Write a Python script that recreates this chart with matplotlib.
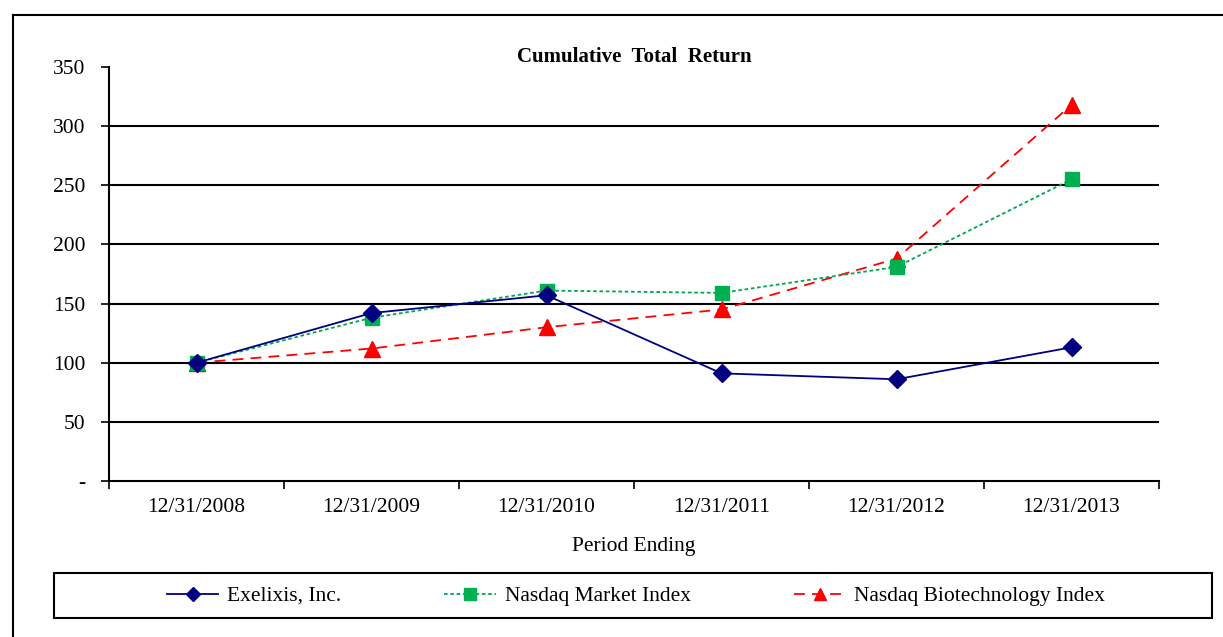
import matplotlib
matplotlib.use("Agg")
import matplotlib.pyplot as plt
from matplotlib.lines import Line2D
from matplotlib.patches import Rectangle
import numpy as np

periods = ["12/31/2008", "12/31/2009", "12/31/2010", "12/31/2011", "12/31/2012", "12/31/2013"]
exelixis = [100, 142, 157, 91, 86, 113]
nasdaq_market = [100, 138, 161, 159, 181, 255]
nasdaq_biotech = [100, 112, 130, 145, 188, 318]
y_ticks = [0, 50, 100, 150, 200, 250, 300, 350]
y_labels = ["-", "50", "100", "150", "200", "250", "300", "350"]

plt.rcParams['font.family'] = ['Liberation Serif', 'DejaVu Serif']

W, H = 1223, 637
fig = plt.figure(figsize=(W / 100, H / 100), dpi=100)
fig.patch.set_facecolor("white")

ax = fig.add_axes([109 / W, 1 - 481 / H, (1159 - 109) / W, (481 - 67) / H])

x = np.arange(len(periods)) + 0.5
ax.plot(x, exelixis, color="#000080", lw=1.3, marker="D", ms=9, mfc="#000080", mec="#000080",
        label="Exelixis, Inc.", zorder=5)
ax.plot(x, nasdaq_market, color="#00A550", lw=1.3, ls=(0, (2, 1.5)), marker="s", ms=10,
        mfc="#00B050", mec="#00B050", label="Nasdaq Market Index", zorder=4)
ax.plot(x, nasdaq_biotech, color="#FF0000", lw=1.3, ls=(0, (6, 4)), marker="^", ms=11,
        mfc="#FF0000", mec="#FF0000", label="Nasdaq Biotechnology Index", zorder=3)

ax.set_xlim(0, len(periods))
ax.set_ylim(0, 350)
ax.set_yticks(y_ticks)
ax.set_yticklabels(y_labels)
for yv in y_ticks[1:-1]:
    ax.axhline(yv, color="black", lw=1.5, zorder=1)

ax.set_xticks(np.arange(len(periods) + 1))
ax.set_xticklabels([])
ax.set_xticks(x, minor=True)
ax.set_xticklabels(periods, minor=True)
ax.tick_params(axis="x", which="major", direction="out", length=6, width=1.2, color="black")
ax.tick_params(axis="x", which="minor", length=0, pad=12, labelsize=15.5)
ax.tick_params(axis="y", direction="out", length=6, width=1.2, pad=11, labelsize=15.5)

for s in ["top", "right"]:
    ax.spines[s].set_visible(False)
for s in ["left", "bottom"]:
    ax.spines[s].set_linewidth(1.5)
    ax.spines[s].set_color("black")

ax.set_title("Cumulative  Total  Return", fontsize=15, fontweight="bold", pad=3)
ax.set_xlabel("Period Ending", fontsize=15.5, labelpad=15)

# legend box frame
fig.add_artist(Rectangle((54 / W, 1 - 618 / H), (1212 - 54) / W, 45 / H, fill=False,
                         edgecolor="black", lw=1.5, transform=fig.transFigure))
leg = fig.legend(loc="center", bbox_to_anchor=(636 / W, 1 - 596 / H),
                 ncol=3, frameon=False, fontsize=15.5, markerscale=0.8,
                 columnspacing=4.8, handlelength=2.4, handletextpad=0.4,
                 borderaxespad=0)

# outer frame (top and left edges visible)
fig.add_artist(Line2D([13 / W, 13 / W], [1 - 15 / H, 0], color="black", lw=1.5,
                      transform=fig.transFigure))
fig.add_artist(Line2D([13 / W, 1], [1 - 15 / H, 1 - 15 / H], color="black", lw=1.5,
                      transform=fig.transFigure))

fig.savefig("out.png", dpi=100, facecolor="white")
